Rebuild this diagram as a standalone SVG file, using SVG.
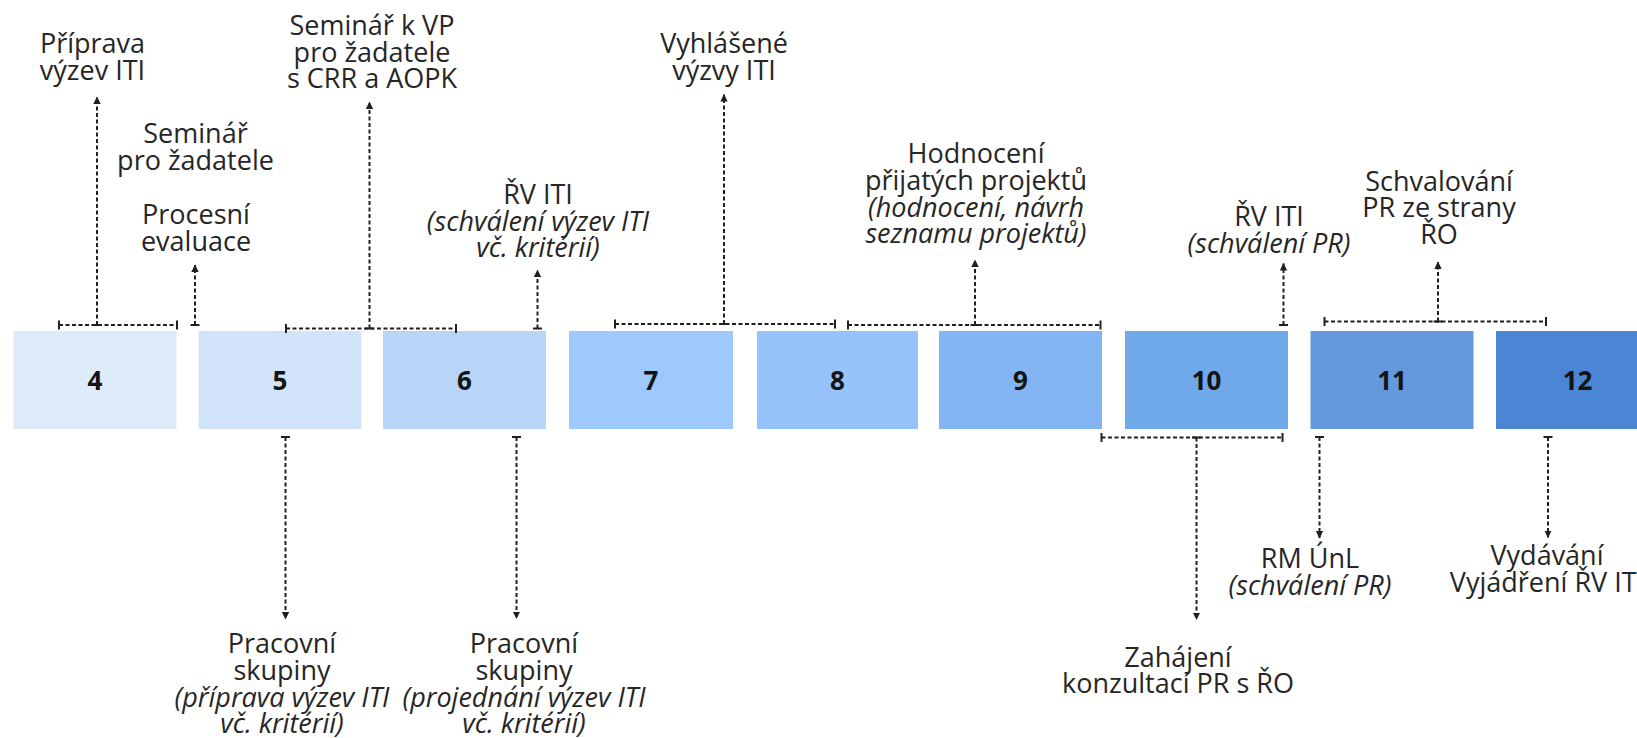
<svg xmlns="http://www.w3.org/2000/svg" width="1637" height="738" viewBox="0 0 1637 738">
<style>
  .lbl { font-family: "Open Sans", "Noto Sans", "DejaVu Sans", sans-serif; font-size: 27px; fill: #262626; text-anchor: middle; }
  .it { font-style: italic; }
  .num { font-family: "Open Sans", "Noto Sans", "DejaVu Sans", sans-serif; font-size: 26px; font-weight: bold; fill: #141414; text-anchor: middle; }
  .dash { fill: none; stroke: #202020; stroke-width: 2; stroke-dasharray: 4 2.5; }
  .br { marker-start: url(#tick); marker-end: url(#tick); }
  .ar { marker-start: url(#tick); marker-end: url(#arrow); }
</style>
<defs>
  <marker id="arrow" markerWidth="9" markerHeight="9" refX="7" refY="4.5" orient="auto" markerUnits="userSpaceOnUse">
    <path d="M0,0.8 L7.5,4.5 L0,8.2 z" fill="#202020"/>
  </marker>
  <marker id="tick" markerWidth="4" markerHeight="10" refX="2" refY="5" orient="auto" markerUnits="userSpaceOnUse">
    <path d="M2,0.5 V9.5" stroke="#202020" stroke-width="2"/>
  </marker>
</defs>
<rect width="1637" height="738" fill="#ffffff"/>

<g id="box-4"><rect x="13.5" y="331" width="163" height="98" fill="#DEEBF8"/><text class="num" x="95" y="390">4</text></g>
<g id="box-5"><rect x="198.5" y="331" width="163" height="98" fill="#D2E4FA"/><text class="num" x="280" y="390">5</text></g>
<g id="box-6"><rect x="383" y="331" width="163" height="98" fill="#B8D5F8"/><text class="num" x="464.5" y="390">6</text></g>
<g id="box-7"><rect x="569" y="331" width="164" height="98" fill="#9DC9FC"/><text class="num" x="651" y="390">7</text></g>
<g id="box-8"><rect x="757" y="331" width="161" height="98" fill="#96C3FB"/><text class="num" x="837.5" y="390">8</text></g>
<g id="box-9"><rect x="939" y="331" width="163" height="98" fill="#83B5F2"/><text class="num" x="1020.5" y="390">9</text></g>
<g id="box-10"><rect x="1125" y="331" width="163" height="98" fill="#6FA9EA"/><text class="num" x="1206.5" y="390">10</text></g>
<g id="box-11"><rect x="1310.5" y="331" width="163" height="98" fill="#6399DC"/><text class="num" x="1392" y="390">11</text></g>
<g id="box-12"><rect x="1496" y="331" width="163" height="98" fill="#4A86D3"/><text class="num" x="1577.5" y="390">12</text></g>

<g id="connectors">
  <path class="dash br" d="M59,325 H177"/>
  <path class="dash ar" d="M97,325 V97"/>
  <path class="dash ar" d="M195,325 V265"/>
  <path class="dash br" d="M286,328.5 H456"/>
  <path class="dash ar" d="M369.5,328.5 V102"/>
  <path class="dash ar" d="M537.5,328.5 V270"/>
  <path class="dash br" d="M615,324 H835"/>
  <path class="dash ar" d="M724,324 V94.5"/>
  <path class="dash br" d="M848,325 H1100.5"/>
  <path class="dash ar" d="M975,325 V260"/>
  <path class="dash ar" d="M1283.5,325 V263.5"/>
  <path class="dash br" d="M1324.5,321.5 H1546"/>
  <path class="dash ar" d="M1438,321.5 V262"/>
  <path class="dash ar" d="M285.5,437 V619"/>
  <path class="dash ar" d="M516.5,437 V618.5"/>
  <path class="dash br" d="M1101.5,437.5 H1282.5"/>
  <path class="dash ar" d="M1196.5,437.5 V619.5"/>
  <path class="dash ar" d="M1319.5,437 V538"/>
  <path class="dash ar" d="M1548,437 V537.5"/>
</g>

<g id="label-priprava"><text class="lbl"><tspan x="92.5" y="53.3">Příprava</tspan><tspan x="92.5" y="80">výzev ITI</tspan></text></g>
<g id="label-seminar"><text class="lbl"><tspan x="195.5" y="143.3">Seminář</tspan><tspan x="195.5" y="170">pro žadatele</tspan></text></g>
<g id="label-procesni"><text class="lbl"><tspan x="196" y="224">Procesní</tspan><tspan x="196" y="250.7">evaluace</tspan></text></g>
<g id="label-seminar-vp"><text class="lbl"><tspan x="372" y="35">Seminář k VP</tspan><tspan x="372" y="61.7">pro žadatele</tspan><tspan x="372" y="88.4">s CRR a AOPK</tspan></text></g>
<g id="label-rv-vyzvy"><text class="lbl"><tspan x="538" y="204">ŘV ITI</tspan><tspan class="it" x="538" y="230.7">(schválení výzev ITI</tspan><tspan class="it" x="538" y="257.3">vč. kritérií)</tspan></text></g>
<g id="label-vyhlasene"><text class="lbl"><tspan x="724" y="53.3">Vyhlášené</tspan><tspan x="724" y="80">výzvy ITI</tspan></text></g>
<g id="label-hodnoceni"><text class="lbl"><tspan x="976" y="163.3">Hodnocení</tspan><tspan x="976" y="190">přijatých projektů</tspan><tspan class="it" x="976" y="216.7">(hodnocení, návrh</tspan><tspan class="it" x="976" y="243.3">seznamu projektů)</tspan></text></g>
<g id="label-rv-pr"><text class="lbl"><tspan x="1269" y="226">ŘV ITI</tspan><tspan class="it" x="1269" y="252.7">(schválení PR)</tspan></text></g>
<g id="label-schvalovani"><text class="lbl"><tspan x="1439" y="190.7">Schvalování</tspan><tspan x="1439" y="217.4">PR ze strany</tspan><tspan x="1439" y="244">ŘO</tspan></text></g>
<g id="label-pracovni-1"><text class="lbl"><tspan x="282" y="653.3">Pracovní</tspan><tspan x="282" y="680">skupiny</tspan><tspan class="it" x="282" y="706.7">(příprava výzev ITI</tspan><tspan class="it" x="282" y="733.3">vč. kritérií)</tspan></text></g>
<g id="label-pracovni-2"><text class="lbl"><tspan x="524" y="653.3">Pracovní</tspan><tspan x="524" y="680">skupiny</tspan><tspan class="it" x="524" y="706.7">(projednání výzev ITI</tspan><tspan class="it" x="524" y="733.3">vč. kritérií)</tspan></text></g>
<g id="label-zahajeni"><text class="lbl"><tspan x="1178" y="666.7">Zahájení</tspan><tspan x="1178" y="693.3">konzultací PR s ŘO</tspan></text></g>
<g id="label-rm-unl"><text class="lbl"><tspan x="1310" y="568">RM ÚnL</tspan><tspan class="it" x="1310" y="594.7">(schválení PR)</tspan></text></g>
<g id="label-vydavani"><text class="lbl"><tspan x="1547" y="565">Vydávání</tspan><tspan x="1547" y="591.7">Vyjádření ŘV ITI</tspan></text></g>
</svg>
